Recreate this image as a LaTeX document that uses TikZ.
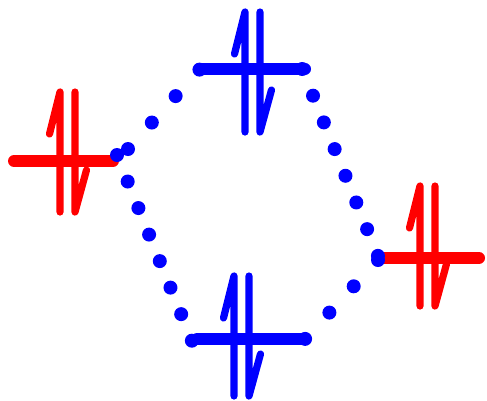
\documentclass[tikz,border=0pt]{standalone}
\usepackage{xcolor}
\usetikzlibrary{calc}
\definecolor{OrbRed}{HTML}{FF0000}
\definecolor{OrbBlue}{HTML}{0000FF}
\tikzset{
  level/.style={line width=12pt,line cap=round},
  spin/.style={line width=7.2pt,line cap=round,line join=round},
  link/.style={draw=OrbBlue,line width=14pt,line cap=round}
}

\begin{document}
\begin{tikzpicture}[x=1pt,y=-1pt]
  \useasboundingbox (0,0) rectangle (487,400);
  % ends of the four levels
  \coordinate (LeftA) at (14,161);
  \coordinate (LeftB) at (113,161);
  \coordinate (TopA) at (200,69);
  \coordinate (TopB) at (305,69);
  \coordinate (BottomA) at (197,339);
  \coordinate (BottomB) at (305,339);
  \coordinate (RightA) at (378,258);
  \coordinate (RightB) at (479,258);
  % where the dotted links start and stop
  \coordinate (LeftUp) at (128,149);
  \coordinate (LeftDown) at (117,155);
  \coordinate (TopEnd) at (302.2,69);
  \coordinate (BottomEnd) at (192,341);
  \coordinate (RightUp) at (378,256);
  \coordinate (RightDown) at (378,260);
  % levels
  \foreach \name/\col in {Left/OrbRed,Top/OrbBlue,Bottom/OrbBlue,Right/OrbRed} {
    \draw[level,draw=\col] (\name A) -- (\name B);
  }
  % electron pairs
  \foreach \x/\y/\col in {60/92/OrbRed,245/12/OrbBlue,234/276/OrbBlue,420/186/OrbRed} {
    \draw[spin,draw=\col] (\x,\y+120) -- (\x,\y) -- (\x-10.5,\y+42);
    \draw[spin,draw=\col] (\x+15,\y) -- (\x+15,\y+120) -- (\x+26.5,\y+78);
  }
  % dotted links
  \draw[link,dash pattern=on 0pt off 35.6pt] (LeftUp) -- (TopA);
  \draw[link,dash pattern=on 0pt off 28.6pt] (LeftDown) -- (BottomEnd);
  \draw[link,dash pattern=on 0pt off 28.8pt] (TopEnd) -- (RightUp);
  \draw[link,dash pattern=on 0pt off 35.8pt] (RightDown) -- (BottomB);
\end{tikzpicture}
\end{document}
